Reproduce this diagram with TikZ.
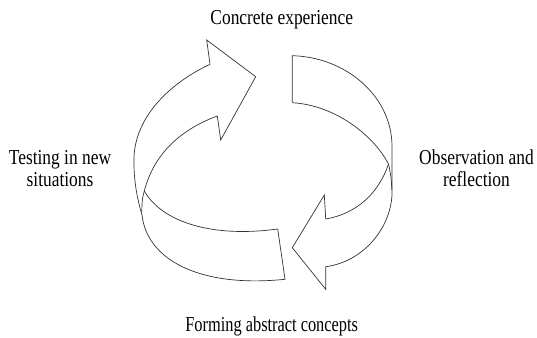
\documentclass[tikz,border=0pt]{standalone}
\usepackage{fontspec}
\setmainfont{Liberation Serif}
\newcommand{\tallstack}[2][1]{\scalebox{#1}[1.22]{\begin{tabular}[b]{@{}c@{}}#2\end{tabular}}}
\begin{document}
\begin{tikzpicture}[x=1pt,y=-1pt,
  edge/.style={draw=black!80, line width=0.7pt, line join=miter},
  lbl/.style={font=\fontsize{17.4}{17.8}\selectfont, inner sep=0pt, anchor=base}]
\useasboundingbox (0,0) rectangle (537,337);
% key points
\coordinate (J1o) at (210,64.3);
\coordinate (B1a) at (206.7,40);
\coordinate (T1)  at (255.7,76.7);
\coordinate (B1b) at (220.7,140);
\coordinate (J1i) at (217.3,116);
\coordinate (J2i) at (325.7,219);
\coordinate (B2a) at (324.3,195);
\coordinate (T2)  at (292.3,247.7);
\coordinate (B2b) at (325.7,289.3);
\coordinate (J2o) at (325.7,266.7);
\coordinate (L1) at (134,158);
\coordinate (L2) at (142,215);
\coordinate (LC) at (144.3,191);
\coordinate (BRi) at (277.7,229);
\coordinate (BRo) at (285,279.3);
\coordinate (TLo) at (292.3,55.7);
\coordinate (TLi) at (292.3,102.7);
\coordinate (R1) at (392,145);
\coordinate (R2) at (392,195);
\coordinate (RC) at (388.5,164);
% left arrow head and outer line continuing into bottom band
\draw[edge] (J1i) -- (B1b) -- (T1) -- (B1a) -- (J1o);
\draw[edge] (J1o) .. controls (168,84) and (135,118) .. (L1)
  .. controls (133.5,180) and (137,198) .. (L2)
  .. controls (147,260) and (200,288) .. (BRo) -- (BRi);
\draw[edge] (J1i) .. controls (185,128) and (155,150) .. (LC);
\draw[edge] (LC) .. controls (142,200) .. (141.8,212);
\draw[edge] (LC) .. controls (162,222) and (212,238) .. (BRi);
% right band and arrow
\draw[edge] (TLi) -- (TLo) .. controls (345,57) and (391,95) .. (R1) -- (R2)
  .. controls (390,230) and (362,262) .. (J2o) -- (B2b) -- (T2) -- (B2a) -- (J2i);
\draw[edge] (TLi) .. controls (333,105) and (372,133) .. (RC);
\draw[edge] (RC) .. controls (391,176) .. (391.9,190);
\draw[edge] (RC) .. controls (378,195) and (355,214) .. (J2i);
% labels
\node[lbl] (ce) at (281.7,25) {\tallstack{Concrete experience}};
\node[lbl] (tn) at (60,186.7) {\tallstack{Testing in new\\situations}};
\node[lbl] (or) at (476.5,186.7) {\tallstack{Observation and\\reflection}};
\node[lbl] (fa) at (271.7,331) {\tallstack[0.94]{Forming abstract concepts}};
\end{tikzpicture}
\end{document}
